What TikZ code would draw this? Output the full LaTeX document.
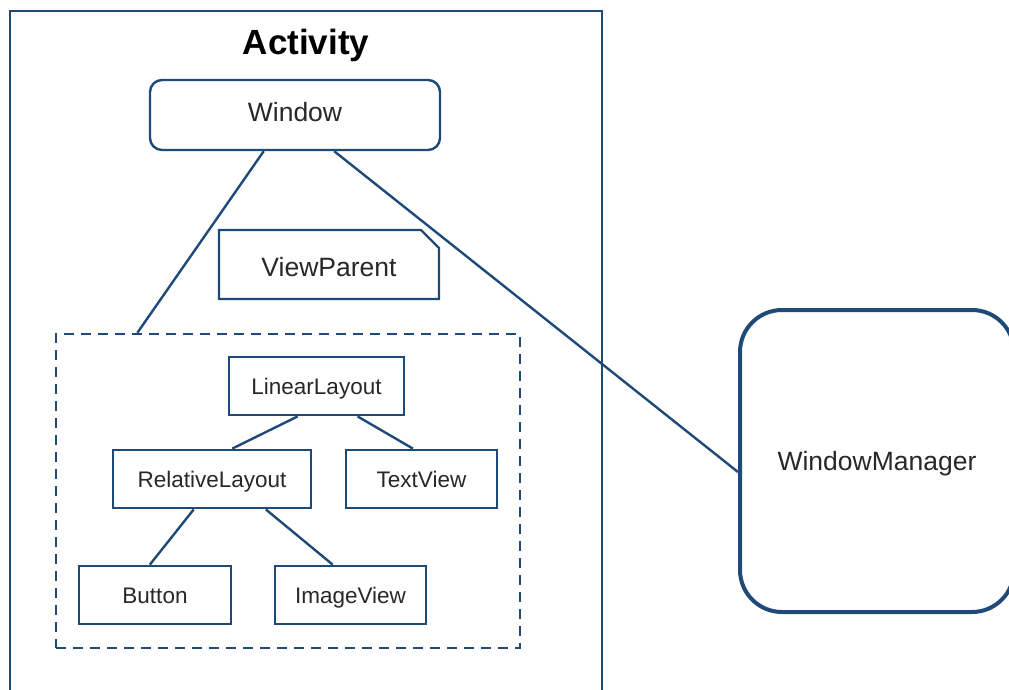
\documentclass[tikz,border=0pt]{standalone}
\usepackage{fontspec}
\setmainfont{Liberation Sans}
\usetikzlibrary{shapes.misc,calc}
\definecolor{lc}{RGB}{31,74,120}
\definecolor{tc}{RGB}{40,40,40}
\tikzset{
  big/.style={draw=lc, line width=2.4pt, text=tc, font=\fontsize{26.5}{30}\selectfont, inner sep=0pt, text height=19pt, text depth=0pt},
  small/.style={draw=lc, line width=2.8pt, text=tc, font=\fontsize{22.5}{26}\selectfont, inner sep=0pt, text height=16pt, text depth=0pt},
  conn/.style={draw=lc, line width=2.4pt},
}
\begin{document}
\begin{tikzpicture}[x=1pt,y=-1pt]
\useasboundingbox (0,0) rectangle (1009,689);
\fill[white] (0,0) rectangle (1009,689);
\begin{scope}
\clip (0,0) rectangle (1009,689);
\draw[lc, line width=2.4pt] (10,11) rectangle (602,720);
\node[font=\fontsize{35}{40}\selectfont\bfseries, text=black] (title) at (306,45) {Activity};
\node[big, rounded corners=12pt, minimum width=290pt, minimum height=70pt] (win) at (295,115) {\raisebox{3pt}{Window}};
\node[big, chamfered rectangle, chamfered rectangle corners=north east, chamfered rectangle xsep=0pt, chamfered rectangle ysep=0pt, chamfered rectangle sep=9pt, minimum width=220pt, minimum height=69pt] (vp) at (329,264.5) {\raisebox{-2pt}{ViewParent}};
\node[draw=lc, line width=2.4pt, dash pattern=on 10pt off 7pt, minimum width=464pt, minimum height=314pt] (grp) at (288,491) {};
\node[small, minimum width=175pt, minimum height=58pt] (ll) at (316.5,386) {LinearLayout};
\node[small, minimum width=198pt, minimum height=58pt] (rl) at (212,479) {RelativeLayout};
\node[small, minimum width=151pt, minimum height=58pt] (tv) at (421.5,479) {TextView};
\node[small, minimum width=152pt, minimum height=58pt] (bt) at (155,595) {Button};
\node[small, minimum width=151pt, minimum height=58pt] (iv) at (350.5,595) {ImageView};
\node[draw=lc, line width=4pt, rounded corners=42pt, text=tc, font=\fontsize{26.5}{30}\selectfont, text height=19pt, text depth=0pt, inner sep=0pt, minimum width=274pt, minimum height=302pt] (wm) at (877,461) {WindowManager};
\draw[conn] ($(win.south west)!0.393!(win.south east)$) -- ($(grp.north west)!0.177!(grp.north east)$);
\draw[conn] ($(win.south west)!0.634!(win.south east)$) -- ($(wm.north west)!0.536!(wm.south west)$);
\draw[conn] ($(ll.south west)!0.394!(ll.south east)$) -- ($(rl.north west)!0.601!(rl.north east)$);
\draw[conn] ($(ll.south west)!0.731!(ll.south east)$) -- ($(tv.north west)!0.444!(tv.north east)$);
\draw[conn] ($(rl.south west)!0.409!(rl.south east)$) -- ($(bt.north west)!0.467!(bt.north east)$);
\draw[conn] ($(rl.south west)!0.768!(rl.south east)$) -- ($(iv.north west)!0.384!(iv.north east)$);
\end{scope}
\end{tikzpicture}
\end{document}
